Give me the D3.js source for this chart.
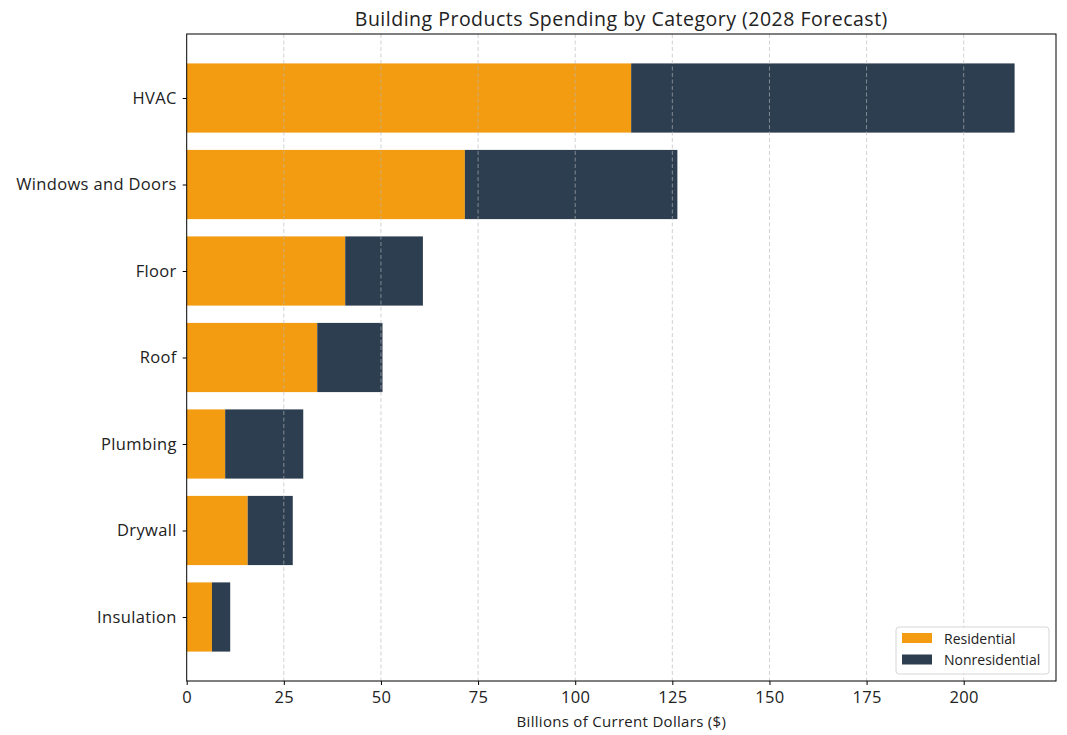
<!DOCTYPE html>
<html>
<head>
<meta charset="utf-8">
<script src="https://cdn.jsdelivr.net/npm/d3@7"></script>
<style>
  body { margin: 0; background: #fff; }
  text { font-family: "Open Sans", Roboto, sans-serif; fill: #222; }
</style>
</head>
<body>
<svg id="chart" width="1067" height="735"></svg>
<script>
// chart data
var categories = ['HVAC', 'Windows and Doors', 'Floor', 'Roof', 'Plumbing', 'Drywall', 'Insulation'];
var residential = [114.4, 71.6, 40.8, 33.6, 9.9, 15.7, 6.5];
var nonresidential = [98.7, 54.7, 20.0, 16.8, 20.1, 11.6, 4.7];
var xTicks = [0, 25, 50, 75, 100, 125, 150, 175, 200];
var seriesNames = ['Residential', 'Nonresidential'];
var colors = ['#f39c12', '#2c3e50'];

var svg = d3.select('#chart');
// plot box (not "top": that name is taken by window.top)
var pLeft = 186.7, pRight = 1056, pTop = 34, pBottom = 681;

var totals = categories.map(function(c, i) { return residential[i] + nonresidential[i]; });
var xMax = d3.max(totals) * 1.05;
var x = d3.scaleLinear().domain([0, xMax]).range([pLeft, pRight]);
// same as matplotlib barh with 5% margins, first category at top
var y = d3.scaleLinear().domain([-0.74, categories.length - 1 + 0.74]).range([pTop, pBottom]);
var barH = y(0.4) - y(0);

// stacked bars
var rows = categories.map(function(c, i) {
  return { name: c, i: i, res: residential[i], non: nonresidential[i] };
});
var g = svg.append('g');
g.selectAll('rect.res').data(rows).enter().append('rect')
  .attr('class', 'res')
  .attr('x', x(0))
  .attr('y', function(d) { return y(d.i) - barH; })
  .attr('width', function(d) { return x(d.res) - x(0); })
  .attr('height', barH * 2)
  .attr('fill', colors[0]);
g.selectAll('rect.non').data(rows).enter().append('rect')
  .attr('class', 'non')
  .attr('x', function(d) { return x(d.res); })
  .attr('y', function(d) { return y(d.i) - barH; })
  .attr('width', function(d) { return x(d.res + d.non) - x(d.res); })
  .attr('height', barH * 2)
  .attr('fill', colors[1]);

// dashed grid drawn over the bars
svg.append('g').selectAll('line').data(xTicks.slice(1)).enter().append('line')
  .attr('x1', function(d) { return x(d); })
  .attr('x2', function(d) { return x(d); })
  .attr('y1', pTop).attr('y2', pBottom)
  .attr('stroke', '#b8b8b8')
  .attr('stroke-opacity', 0.7)
  .attr('stroke-dasharray', '4,2.5')
  .attr('stroke-width', 0.9);

// frame
svg.append('rect')
  .attr('x', pLeft).attr('y', pTop)
  .attr('width', pRight - pLeft).attr('height', pBottom - pTop)
  .attr('fill', 'none').attr('stroke', '#000').attr('stroke-width', 1);

// x axis
var xAxis = d3.axisBottom(x).tickValues(xTicks).tickSize(4).tickPadding(6);
var xg = svg.append('g').attr('transform', 'translate(0,' + pBottom + ')').call(xAxis);
xg.select('.domain').remove();
xg.selectAll('text').style('font-size', '16.5px').style('letter-spacing', '0.3px').attr('fill', '#222');

// y axis
var yAxis = d3.axisLeft(y).tickValues(d3.range(categories.length))
  .tickFormat(function(i) { return categories[i]; }).tickSize(4).tickPadding(6);
var yg = svg.append('g').attr('transform', 'translate(' + pLeft + ',0)').call(yAxis);
yg.select('.domain').remove();
yg.selectAll('text').style('font-size', '16.5px').style('letter-spacing', '0.35px').attr('fill', '#222');

// title and axis label
svg.append('text')
  .attr('x', (pLeft + pRight) / 2).attr('y', 26)
  .attr('text-anchor', 'middle')
  .style('font-size', '19.5px')
  .style('letter-spacing', '0.5px')
  .text('Building Products Spending by Category (2028 Forecast)');
svg.append('text')
  .attr('x', (pLeft + pRight) / 2).attr('y', 727)
  .attr('text-anchor', 'middle')
  .style('font-size', '15px')
  .style('letter-spacing', '0.3px')
  .text('Billions of Current Dollars ($)');

// legend
var lg = svg.append('g').attr('transform', 'translate(896,627)');
lg.append('rect')
  .attr('width', 153).attr('height', 47).attr('rx', 3)
  .attr('fill', '#fff').attr('fill-opacity', 0.8)
  .attr('stroke', '#d6d6d6');
seriesNames.forEach(function(name, i) {
  lg.append('rect')
    .attr('x', 6).attr('y', 6 + i * 21.5)
    .attr('width', 30).attr('height', 10)
    .attr('fill', colors[i]);
  lg.append('text')
    .attr('x', 48).attr('y', 16.5 + i * 21.5)
    .style('font-size', '14px')
    .text(name);
});
</script>
</body>
</html>
